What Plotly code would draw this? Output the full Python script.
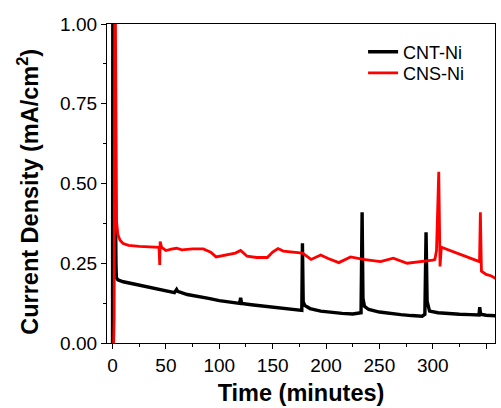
import plotly.graph_objects as go

# CNT-Ni (black) readings
cnt_t = [0, 0.3, 3.2, 3.6, 5, 10, 20, 30, 40, 50, 58, 60, 61, 70, 80, 90, 100, 110, 119, 120, 121,
         130, 140, 150, 160, 170, 177.3, 177.9, 178.6, 180, 185, 195, 205, 215, 225, 232.8, 233.8,
         234.6, 236, 240, 250, 260, 270, 280, 290, 292.6, 293.7, 294.7, 297, 305, 315, 325, 335,
         343.3, 344, 344.8, 350, 360]
cnt_j = [0.0, 1.3, 0.245, 0.205, 0.198, 0.192, 0.185, 0.178, 0.170, 0.163, 0.158, 0.168, 0.162,
         0.152, 0.147, 0.140, 0.133, 0.128, 0.124, 0.142, 0.124, 0.120, 0.116, 0.112, 0.108, 0.104,
         0.102, 0.313, 0.13, 0.118, 0.108, 0.100, 0.096, 0.093, 0.091, 0.095, 0.41, 0.14, 0.115,
         0.105, 0.097, 0.092, 0.089, 0.086, 0.084, 0.090, 0.347, 0.13, 0.100, 0.095, 0.092, 0.090,
         0.089, 0.088, 0.112, 0.090, 0.087, 0.085]

# CNS-Ni (red) readings
cns_t = [1.0, 1.5, 2.2, 3.2, 3.8, 5, 7, 10, 15, 25, 35, 43.5, 44.2, 44.6, 46, 50, 55, 60, 65, 75,
         85, 92, 97, 105, 115, 120, 126, 135, 145, 150, 155, 160, 170, 178, 186, 195, 202, 212,
         223, 235, 251, 263, 276, 290, 300, 302, 303.5, 305.6, 306.8, 308, 312, 320, 332, 343.8,
         344.6, 345.6, 350, 355, 360]
cns_j = [0.0, 0.08, 1.3, 0.48, 0.38, 0.34, 0.322, 0.312, 0.306, 0.303, 0.302, 0.300, 0.245, 0.318,
         0.300, 0.290, 0.294, 0.297, 0.292, 0.295, 0.295, 0.285, 0.270, 0.275, 0.282, 0.290, 0.272,
         0.268, 0.268, 0.285, 0.296, 0.288, 0.285, 0.282, 0.262, 0.276, 0.265, 0.252, 0.270, 0.262,
         0.255, 0.266, 0.250, 0.255, 0.260, 0.262, 0.290, 0.537, 0.240, 0.300, 0.295, 0.286, 0.270,
         0.255, 0.41, 0.225, 0.215, 0.210, 0.200]

x_ticks = [0, 50, 100, 150, 200, 250, 300, 350]
y_ticks = [0, 0.25, 0.5, 0.75, 1.0]
y_tick_text = ["0.00", "0.25", "0.50", "0.75", "1.00"]

FONT = "Liberation Sans"

fig = go.Figure()
fig.add_trace(go.Scatter(x=cnt_t, y=cnt_j, mode="lines", name="CNT-Ni", legend="legend",
                         line=dict(color="#000000", width=3.4)))
fig.add_trace(go.Scatter(x=cns_t, y=cns_j, mode="lines", name="CNS-Ni", legend="legend2",
                         line=dict(color="#ff0000", width=2.8)))

axis_common = dict(showline=True, linecolor="black", linewidth=1.3, mirror=True,
                   ticks="outside", ticklen=5, tickwidth=1.2, tickcolor="black",
                   showgrid=False, zeroline=False,
                   tickfont=dict(family=FONT, size=19, color="black"))

fig.update_xaxes(range=[-5.2, 358.3], tickvals=x_ticks,
                 minor=dict(ticks="outside", ticklen=3, tickwidth=1.2, tickcolor="black",
                            dtick=25, tick0=25),
                 title=dict(text="<b>Time (minutes)</b>", font=dict(family=FONT, size=23.5, color="black"),
                            standoff=9),
                 **axis_common)
fig.update_yaxes(range=[0, 1], tickvals=y_ticks, ticktext=y_tick_text,
                 minor=dict(ticks="outside", ticklen=3, tickwidth=1.2, tickcolor="black",
                            dtick=0.25, tick0=0.125),
                 **axis_common)

fig.add_annotation(text="<b>Current Density (mA/cm<sup>2</sup>)</b>", textangle=-90,
                   xref="paper", yref="paper", x=-0.2036, y=0.474,
                   xanchor="center", yanchor="middle", showarrow=False,
                   font=dict(family=FONT, size=23.5, color="black"))

leg_common = dict(xanchor="left", yanchor="middle", bgcolor="rgba(0,0,0,0)",
                  font=dict(family=FONT, size=18, color="black"), itemwidth=30)

fig.update_layout(width=501, height=408, autosize=False,
                  margin=dict(l=107, r=6, t=24, b=65, autoexpand=False),
                  plot_bgcolor="white", paper_bgcolor="white",
                  showlegend=True,
                  legend=dict(x=0.66, y=0.912, **leg_common),
                  legend2=dict(x=0.66, y=0.846, **leg_common))

fig.write_html("out.html")
